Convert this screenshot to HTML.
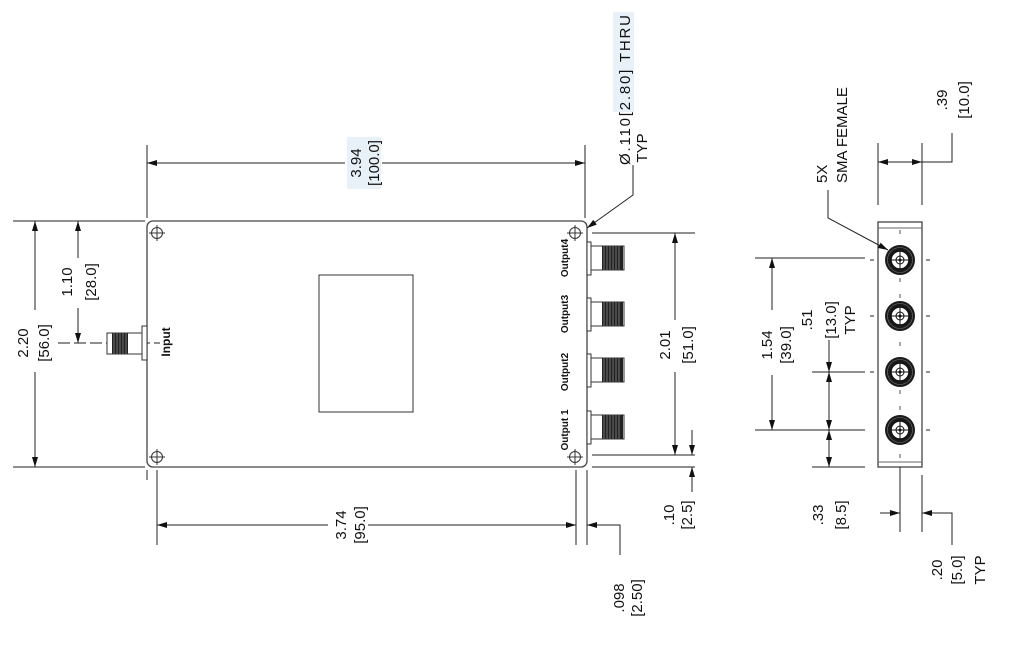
<!DOCTYPE html>
<html><head><meta charset="utf-8"><style>
html,body{margin:0;padding:0;background:#fff;}
svg{display:block;}
text{font-family:"Liberation Sans",sans-serif;font-size:15px;fill:#111;}
.b{font-weight:bold;font-size:10px;}
</style></head><body>
<svg width="1011" height="650" viewBox="0 0 1011 650" xmlns="http://www.w3.org/2000/svg">
<defs>
<marker id="a" viewBox="0 0 10 6" refX="10" refY="3" markerWidth="10" markerHeight="6" orient="auto-start-reverse" markerUnits="userSpaceOnUse">
<path d="M0,0 L10,3 L0,6 z" fill="#111"/></marker>
<g id="hole"><circle r="5.5" fill="none" stroke="#333" stroke-width="1"/><path d="M-8,0H8M0,-8V8M-3,0H3M0,-3V3" stroke="#333" stroke-width="1"/></g>
<g id="oc"><rect x="0" y="-16" width="4" height="33" fill="#fff" stroke="#333"/><rect x="4" y="-12" width="33" height="24" fill="#fff" stroke="#333"/>
<rect x="15" y="-12" width="21" height="24" fill="#222"/>
<path d="M17,-12V12M20,-12V12M23,-12V12M26,-12V12M29,-12V12M32,-12V12" stroke="#888" stroke-width="0.8"/></g>
<g id="sc"><circle r="15" fill="#1a1a1a"/><circle r="12.5" fill="none" stroke="#777" stroke-width="0.6"/><circle r="9" fill="#fff" stroke="#111" stroke-width="1.5"/><circle r="4" fill="none" stroke="#111"/><path d="M-9,0H9M0,-9V9" stroke="#111"/><circle r="1.5" fill="#111"/></g>
</defs>
<rect x="347" y="137" width="34" height="52" fill="#e8f0f8"/>
<rect x="613" y="12" width="21" height="100" fill="#e8f0f8"/>
<g stroke="#222" stroke-width="1" fill="none">
<rect x="147" y="221" width="440" height="246" rx="6" stroke="#444" stroke-width="1.3"/>
<rect x="319" y="275" width="94" height="137" stroke="#333"/>
<path d="M147,145V218M585,145V218"/>
<path d="M13,221H145M13,467H145"/>
<path d="M592,233H695M592,455H695M592,467H695"/>
<path d="M157,470V545M576,470V545M587,470V545"/>
<path d="M147,470V480M147,205V215"/>
<path d="M147,163H345M382,163H585" marker-start="url(#a)" marker-end="url(#a)"/>
<path d="M35,221V310M35,372V467" marker-start="url(#a)" marker-end="url(#a)"/>
<path d="M78,258V221" marker-end="url(#a)"/>
<path d="M78,308V343" marker-end="url(#a)"/>
<path d="M58,343H160" stroke-dasharray="12,4"/>
<path d="M675,233V320M675,372V455" marker-start="url(#a)" marker-end="url(#a)"/>
<path d="M692,430V455" marker-end="url(#a)"/>
<path d="M692,492V467" marker-end="url(#a)"/>
<path d="M157,525H328M368,525H576" marker-start="url(#a)" marker-end="url(#a)"/>
<path d="M620,555V525H587" marker-end="url(#a)"/>
<path d="M633,165V195L587,228" marker-end="url(#a)"/>
<rect x="142" y="326" width="5" height="34" fill="#fff" stroke="#333"/>
<rect x="107" y="333" width="35" height="21" fill="#fff" stroke="#333"/>
<rect x="112" y="333" width="16" height="21" fill="#222" stroke="none"/>
<path d="M114,333V354M117,333V354M120,333V354M123,333V354M126,333V354" stroke="#888" stroke-width="0.8"/>
</g>
<g><use href="#hole" x="157" y="233"/><use href="#hole" x="575" y="233"/><use href="#hole" x="157" y="457"/><use href="#hole" x="575" y="457"/></g>
<use href="#oc" x="587" y="258"/><use href="#oc" x="587" y="314"/><use href="#oc" x="587" y="370"/><use href="#oc" x="587" y="427"/>
<g stroke="#222" stroke-width="1" fill="none">
<rect x="878" y="222" width="44" height="245" stroke="#444" stroke-width="1.3"/>
<path d="M878,228H922M878,462H922" stroke="#666"/>
<path d="M900,230V465" stroke="#555" stroke-dasharray="4,12"/>
<path d="M878,143V205M922,143V205"/>
<path d="M900,162H878" marker-end="url(#a)"/>
<path d="M900,162H922" marker-end="url(#a)"/>
<path d="M922,162H952V133"/>
<path d="M828,190V218L888,250" marker-end="url(#a)"/>
<path d="M755,258H865M755,430H865M812,372H865M812,467H865M870,316H874M926,316H930M870,372H874M926,372H930M870,260H874M926,260H930M926,430H930"/>
<path d="M772,258V310M772,375V430" marker-start="url(#a)" marker-end="url(#a)"/>
<path d="M829,340V372" marker-end="url(#a)"/>
<path d="M829,400V430" marker-end="url(#a)"/>
<path d="M829,400V372" marker-end="url(#a)"/>
<path d="M829,445V467" marker-end="url(#a)"/>
<path d="M829,445V430" marker-end="url(#a)"/>
<path d="M900,467V532M922,475V532"/>
<path d="M880,513H900" marker-end="url(#a)"/>
<path d="M952,545V513H922" marker-end="url(#a)"/>
</g>
<use href="#sc" x="900" y="260"/><use href="#sc" x="900" y="316"/><use href="#sc" x="900" y="372"/><use href="#sc" x="900" y="430"/>
<g text-anchor="middle">
<text transform="translate(361,163) rotate(-90)">3.94</text>
<text transform="translate(379,163) rotate(-90)">[100.0]</text>
<text text-anchor="start" transform="translate(630,165) rotate(-90)" textLength="150" lengthAdjust="spacing">Ø.110[2.80] THRU</text>
<text transform="translate(647,148) rotate(-90)">TYP</text>
<text transform="translate(28,343) rotate(-90)">2.20</text>
<text transform="translate(49,343) rotate(-90)">[56.0]</text>
<text transform="translate(72,282) rotate(-90)">1.10</text>
<text transform="translate(96,282) rotate(-90)">[28.0]</text>
<text class="b" transform="translate(170,342) rotate(-90)" style="font-size:12px">Input</text>
<text class="b" transform="translate(568,258) rotate(-90)">Output4</text>
<text class="b" transform="translate(568,314) rotate(-90)">Output3</text>
<text class="b" transform="translate(568,372) rotate(-90)">Output2</text>
<text class="b" transform="translate(568,430) rotate(-90)">Output 1</text>
<text transform="translate(670,345) rotate(-90)">2.01</text>
<text transform="translate(693,345) rotate(-90)">[51.0]</text>
<text transform="translate(674,515) rotate(-90)">.10</text>
<text transform="translate(692,515) rotate(-90)">[2.5]</text>
<text transform="translate(346,525) rotate(-90)">3.74</text>
<text transform="translate(365,525) rotate(-90)">[95.0]</text>
<text transform="translate(624,598) rotate(-90)">.098</text>
<text transform="translate(642,598) rotate(-90)">[2.50]</text>
<text transform="translate(947,100) rotate(-90)">.39</text>
<text transform="translate(969,100) rotate(-90)">[10.0]</text>
<text text-anchor="start" transform="translate(827,183) rotate(-90)">5X</text>
<text text-anchor="start" transform="translate(847,183) rotate(-90)">SMA FEMALE</text>
<text transform="translate(772,345) rotate(-90)">1.54</text>
<text transform="translate(791,345) rotate(-90)">[39.0]</text>
<text transform="translate(812,320) rotate(-90)">.51</text>
<text transform="translate(836,320) rotate(-90)">[13.0]</text>
<text transform="translate(855,320) rotate(-90)">TYP</text>
<text transform="translate(823,515) rotate(-90)">.33</text>
<text transform="translate(846,515) rotate(-90)">[8.5]</text>
<text transform="translate(942,570) rotate(-90)">.20</text>
<text transform="translate(962,570) rotate(-90)">[5.0]</text>
<text transform="translate(985,570) rotate(-90)">TYP</text>
</g>
</svg>
</body></html>
